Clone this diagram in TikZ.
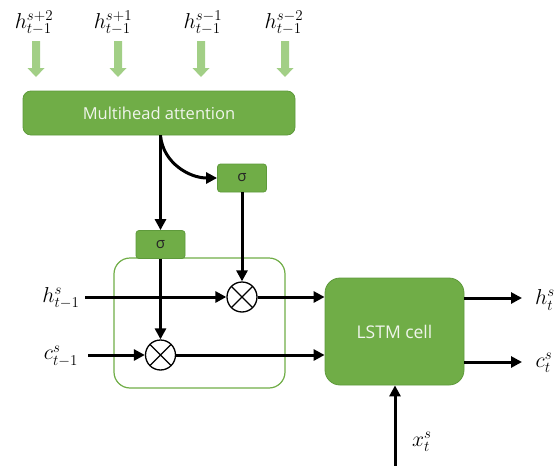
\documentclass[tikz,border=0pt]{standalone}
\usepackage{fontspec}
\newfontfamily\uifont{Open Sans}
\usetikzlibrary{arrows.meta}
\definecolor{mgreen}{HTML}{70AD47}
\definecolor{mgreenD}{HTML}{5E9A3B}
\definecolor{lgreen}{HTML}{A2CF86}
\definecolor{txtw}{HTML}{F0F5EC}
\begin{document}
\begin{tikzpicture}[x=1pt,y=-1pt,
  greenbox/.style={draw=mgreenD, fill=mgreen, line width=0.8pt, text=txtw,
    font=\uifont\fontsize{16.5}{18}\selectfont, inner sep=0pt},
  sigbox/.style={greenbox, rounded corners=3pt, minimum width=49pt, minimum height=28pt,
    text=black!85, font=\uifont\fontsize{15}{17}\selectfont},
  gatebox/.style={draw=mgreen, line width=1.2pt, rounded corners=16pt, inner sep=0pt},
  otimes/.style={circle, draw=black, fill=white, line width=1.3pt, minimum size=30pt, inner sep=0pt,
    path picture={\draw[line width=1.3pt] (path picture bounding box.north west) -- (path picture bounding box.south east)
      (path picture bounding box.north east) -- (path picture bounding box.south west);}},
  lab/.style={inner sep=0pt, font=\fontsize{17.28}{20}\selectfont, scale=1.25, transform shape},
  conn/.style={line width=3pt, -{Triangle[length=11pt,width=11pt]}},
]
\useasboundingbox (0,0) rectangle (555,466);

% light green input arrows
\foreach \x in {36,118,201,285}
  \fill[lgreen]
    (\x-4,41) -- (\x+4,41) -- (\x+4,68) -- (\x+8.5,68) -- (\x,77) -- (\x-8.5,68) -- (\x-4,68) -- cycle;

% top labels
\node[lab] (l1) at (34,23) {$h^{s+2}_{t-1}$};
\node[lab] (l2) at (113,23) {$h^{s+1}_{t-1}$};
\node[lab] (l3) at (203,23) {$h^{s-1}_{t-1}$};
\node[lab] (l4) at (284,23) {$h^{s-2}_{t-1}$};

% boxes
\node[greenbox, rounded corners=8pt, minimum width=272pt, minimum height=44pt] (att) at (159,113) {Multihead attention};
\node[gatebox, minimum width=171pt, minimum height=130pt] (gb) at (199.5,323) {};
\node[sigbox] (sigU) at (242,178) {σ};
\node[sigbox] (sigL) at (160.5,244.5) {σ};
\node[otimes] (mulU) at (242,297) {};
\node[otimes] (mulL) at (160.5,355) {};
\node[greenbox, rounded corners=15pt, minimum width=139pt, minimum height=107pt,
  font=\uifont\fontsize{17.5}{20}\selectfont] (lstm) at (394.5,331.5) {LSTM cell};

% side labels
\node[lab] (hin) at (61,298) {$h^s_{t-1}$};
\node[lab] (cin) at (61,356) {$c^s_{t-1}$};
\node[lab] (hlab) at (545,300) {$h^s_t$};
\node[lab] (clab) at (544,363) {$c^s_t$};
\node[lab] (xlab) at (422,442) {$x^s_t$};

% free ends
\coordinate (hstart) at (85,297);
\coordinate (cstart) at (88,355);
\coordinate (hout) at (522,298);
\coordinate (cout) at (522,362);
\coordinate (xstart) at (395,466);
\coordinate (attout) at (sigL.north |- att.south);

% connectors
\draw[conn] (attout) -- (sigL.north);
\draw[conn] (attout) to[out=-85,in=180] (sigU.west);
\draw[conn] (sigL.south) -- (mulL.north);
\draw[conn] (sigU.south) -- (mulU.north);
\draw[conn] (hstart) -- (mulU.west);
\draw[conn] (cstart) -- (mulL.west);
\draw[conn] (mulU.east) -- (lstm.west |- mulU.east);
\draw[conn] (mulL.east) -- (lstm.west |- mulL.east);
\draw[conn] (lstm.east |- hout) -- (hout);
\draw[conn] (lstm.east |- cout) -- (cout);
\draw[conn] (xstart) -- (lstm.south -| xstart);
\end{tikzpicture}
\end{document}
